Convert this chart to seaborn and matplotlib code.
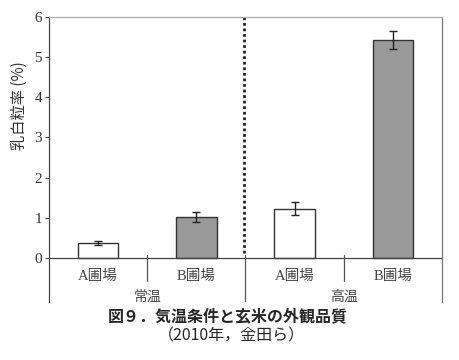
import matplotlib
matplotlib.use('Agg')
import matplotlib.pyplot as plt
import numpy as np
import pandas as pd
import seaborn as sns

# data
conditions = ['常温', '常温', '高温', '高温']
fields = ['A圃場', 'B圃場', 'A圃場', 'B圃場']
rates = [0.37, 1.02, 1.22, 5.42]
errors = [0.05, 0.13, 0.16, 0.22]
bar_colors = ['#ffffff', '#999999', '#ffffff', '#999999']

sns.set_style('white')
jp = ['Noto Sans CJK JP', 'DejaVu Sans']
plt.rcParams['font.family'] = jp

df = pd.DataFrame({'key': [c + f for c, f in zip(conditions, fields)],
                   'rate': rates})

fig = plt.figure(figsize=(4.6, 3.6), dpi=100)
ax = fig.add_axes([49 / 460, 58 / 360, 393 / 460, 285 / 360])

sns.barplot(data=df, x='key', y='rate', hue='key', palette=bar_colors,
            width=0.41, edgecolor='#333333', linewidth=1.0, legend=False,
            errorbar=None, ax=ax)
ax.errorbar(np.arange(len(rates)), rates, yerr=errors, fmt='none',
            ecolor='#222222', elinewidth=1.0, capsize=3, capthick=1.0)

ax.set_xlim(-0.5, 3.5)
ax.set_ylim(-1.1, 6)
ax.set_yticks(range(0, 7))
ax.set_yticklabels([str(v) for v in range(0, 7)],
                   family=['Liberation Serif'], fontsize=11, color='#333333')
ax.tick_params(axis='y', length=3, width=0.8, color='#444444', pad=2,
               left=True, direction='out')
ax.set_xticks([])
ax.set_xlabel('')
ax.set_ylabel('乳白粒率 (%)', fontsize=11, color='#333333')
ax.yaxis.set_label_coords(-0.055, 0.69)

ax.spines['bottom'].set_visible(False)
ax.spines['left'].set_color('#444444')
ax.spines['top'].set_color('#aaaaaa')
ax.spines['right'].set_color('#777777')
for s in ['left', 'top', 'right']:
    ax.spines[s].set_linewidth(0.9)

ax.axhline(0, color='#444444', lw=0.9, zorder=1)
ax.axvline(1.5, ymin=0, ymax=(0.08 + 1.1) / 7.1, color='#555555', lw=0.9)
for xs in [0.5, 2.5]:
    ax.axvline(xs, ymin=(-0.57 + 1.1) / 7.1, ymax=(0.08 + 1.1) / 7.1,
               color='#555555', lw=0.9)
ax.axvline(1.485, ymin=(0.12 + 1.1) / 7.1, ymax=1, color='#222222', lw=2.0,
           linestyle=(0, (1, 1)))

for i, f in enumerate(fields):
    ax.text(i, -0.45, f, ha='center', va='center', fontsize=10.5,
            color='#444444', family=['Liberation Serif', 'Noto Sans CJK JP'])
for i, c in enumerate(['常温', '高温']):
    ax.text(2 * i + 0.5, -0.97, c, ha='center', va='center', fontsize=10,
            color='#444444')

fig.text(228 / 460, 1 - 316 / 360, '図９．気温条件と玄米の外観品質',
         ha='center', va='center', fontsize=11.5, fontweight='bold')
fig.text(231 / 460, 1 - 336 / 360, '（2010年，金田ら）',
         ha='center', va='center', fontsize=11.5)

fig.savefig('out.png', dpi=100)
